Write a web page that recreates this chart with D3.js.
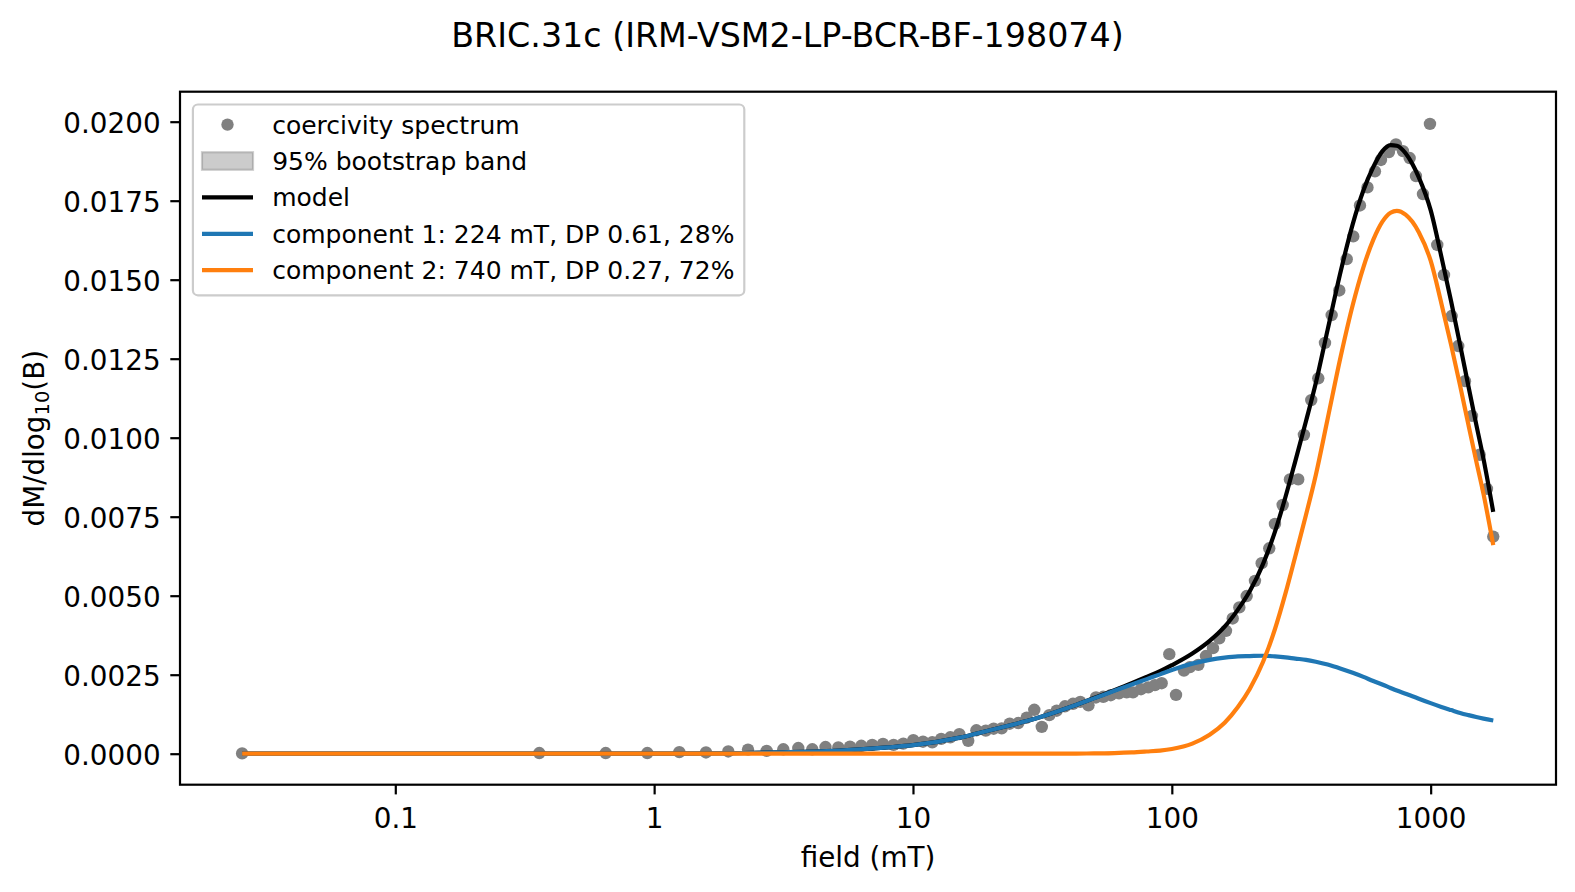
<!DOCTYPE html>
<html>
<head>
<meta charset="utf-8">
<script src="https://cdn.jsdelivr.net/npm/d3@7"></script>
<style>
  html, body { margin: 0; padding: 0; background: #ffffff; }
  svg { display: block; }
  text { font-family: "DejaVu Sans", sans-serif; fill: #000; }
</style>
</head>
<body>
<svg id="chart" width="1575" height="892"></svg>
<script>
// ---------------- data ----------------
const chartTitle = "BRIC.31c (IRM-VSM2-LP-BCR-BF-198074)";

// measured coercivity spectrum (field in mT, dM/dlog10(B))
const spectrumField = [0.0256, 0.360, 0.650, 0.941, 1.251, 1.586, 1.934, 2.305, 2.721, 3.155,
  3.605, 4.083, 4.592, 5.146, 5.709, 6.315, 6.957, 7.657, 8.416, 9.174,
  10.03, 10.93, 11.87, 12.85, 13.94, 15.10, 16.35, 17.58, 19.11, 20.50,
  22.01, 23.64, 25.52, 27.50, 29.42, 31.45, 33.62, 35.91, 38.66, 41.51,
  44.30, 47.64, 50.93, 54.35, 58.10, 62.50, 66.93, 70.79, 76.01, 81.10,
  86.08, 91.37, 97.77, 103.8, 111.4, 117.5, 126.6, 135.5, 144.2, 152.5,
  161.9, 171.9, 182.3, 194.6, 209.5, 222.4, 237.9, 250.3, 268.1, 286.0,
  307.9, 323.9, 345.7, 368.0, 390.6, 414.5, 443.6, 473.8, 502.3, 533.2,
  570.0, 609.2, 642.7, 690.0, 734.4, 781.6, 829.6, 877.4, 933.8, 993.8,
  1060.5, 1125.7, 1205.5, 1278.4, 1357, 1444, 1546, 1650, 1745];
const spectrumValue = [0.00001, 0.00002, 0.00002, 0.00002, 0.00005, 0.00004, 0.00007, 0.00013, 0.00009, 0.00014,
  0.00018, 0.00014, 0.00021, 0.00020, 0.00022, 0.00025, 0.00028, 0.00031, 0.00028, 0.00032,
  0.00043, 0.00038, 0.00036, 0.00047, 0.00052, 0.00062, 0.00041, 0.00074, 0.00073, 0.00079,
  0.00080, 0.00095, 0.00097, 0.00114, 0.00139, 0.00085, 0.00122, 0.00136, 0.00150, 0.00158,
  0.00164, 0.00153, 0.00178, 0.00180, 0.00185, 0.00191, 0.00194, 0.00194, 0.00204, 0.00210,
  0.00217, 0.00223, 0.00315, 0.00186, 0.00263, 0.00274, 0.00281, 0.00309, 0.00334, 0.00365,
  0.00389, 0.00428, 0.00463, 0.00499, 0.00547, 0.00603, 0.00650, 0.00727, 0.00787, 0.00868,
  0.00868, 0.01009, 0.01119, 0.01188, 0.01300, 0.01388, 0.01466, 0.01565, 0.01637, 0.01735,
  0.01792, 0.01843, 0.01879, 0.01904, 0.01928, 0.01907, 0.01885, 0.01828, 0.01771, 0.01993,
  0.01610, 0.01515, 0.01385, 0.01290, 0.01179, 0.01069, 0.00946, 0.00838, 0.00687];

// fitted curves sampled along field (mT)
const curveField = [0.0256, 1, 2, 3, 5, 8, 10, 15, 20, 30, 40, 50, 60, 70, 80, 90, 100,
  120, 140, 160, 180, 200, 225, 250, 275, 300, 330, 360, 400, 450, 500, 550, 600, 650,
  700, 740, 800, 850, 900, 1000, 1100, 1200, 1300, 1400, 1500, 1600, 1745];
const modelCurve = [0, 0.000003, 0.000015, 0.00004, 0.00009, 0.0002, 0.00027, 0.0005, 0.00075, 0.00112,
  0.00146, 0.00176, 0.00201, 0.00223, 0.00243, 0.00261, 0.0028, 0.00317, 0.00357, 0.00402,
  0.00456, 0.00514, 0.006, 0.00701, 0.00813, 0.00926, 0.01053, 0.01173, 0.01342, 0.01529,
  0.01676, 0.01783, 0.01856, 0.01906, 0.01926, 0.01924, 0.01900, 0.01866, 0.01824, 0.0172,
  0.01573, 0.01431, 0.01293, 0.01162, 0.01042, 0.00933, 0.00765];
const comp1Curve = [0, 0.000003, 0.000015, 0.00004, 0.00009, 0.0002, 0.00027, 0.0005, 0.00075, 0.00112,
  0.00146, 0.00175, 0.00199, 0.00219, 0.00236, 0.00251, 0.00265, 0.00285, 0.00297, 0.00304,
  0.00308, 0.00309, 0.0031, 0.00308, 0.00305, 0.00301, 0.00297, 0.00291, 0.00282, 0.00269,
  0.00256, 0.00243, 0.0023, 0.00219, 0.00208, 0.002, 0.0019, 0.00182, 0.00174, 0.0016,
  0.00148, 0.00138, 0.00129, 0.00122, 0.00116, 0.00111, 0.00105];
const comp2Curve = [0, 0, 0, 0, 0, 0, 0, 0, 0, 0,
  0, 0.00001, 0.00002, 0.00004, 0.00007, 0.0001, 0.00015, 0.00032, 0.0006, 0.00098,
  0.00148, 0.00205, 0.0029, 0.00393, 0.00508, 0.00625, 0.00756, 0.00882, 0.0106, 0.0126,
  0.0142, 0.0154, 0.01626, 0.01683, 0.01712, 0.01718, 0.01706, 0.01683, 0.0165, 0.0156,
  0.01425, 0.01293, 0.01164, 0.0104, 0.00926, 0.00822, 0.0066];
// half-width of the 95% bootstrap band
const bandHalf = [0, 0, 0, 0, 0, 0, 0, 0.00001, 0.00001, 0.00001,
  0.00001, 0.00001, 0.00001, 0.00001, 0.00001, 0.00001, 0.00001, 0.00002, 0.00002, 0.00002,
  0.00002, 0.00002, 0.00002, 0.00002, 0.00002, 0.00002, 0.00002, 0.00002, 0.00002, 0.00003,
  0.00003, 0.00003, 0.00003, 0.00003, 0.00003, 0.00003, 0.00003, 0.00003, 0.00003, 0.00003,
  0.00004, 0.00004, 0.00004, 0.00004, 0.00004, 0.00004, 0.00004];

const xTickValues = [0.1, 1, 10, 100, 1000];
const xTickLabels = ["0.1", "1", "10", "100", "1000"];
const yTickValues = [0, 0.0025, 0.005, 0.0075, 0.01, 0.0125, 0.015, 0.0175, 0.02];
const legendLabels = ["coercivity spectrum", "95% bootstrap band", "model",
  "component 1: 224 mT, DP 0.61, 28%", "component 2: 740 mT, DP 0.27, 72%"];

// ---------------- layout ----------------
const W = 1575, H = 892;
const plot = { left: 180, right: 1556, top: 91.7, bottom: 784.7 };
const colors = { points: "#808080", model: "#000000", c1: "#1f77b4", c2: "#ff7f0e", band: "#808080" };

const svg = d3.select("#chart");
svg.append("rect").attr("width", W).attr("height", H).attr("fill", "#fff");

const x = d3.scaleLog().domain([0.01473, 3049.6]).range([plot.left, plot.right]);
const y = d3.scaleLinear().domain([-0.000981, 0.020949]).range([plot.bottom, plot.top]);

const clipId = "plotclip";
svg.append("clipPath").attr("id", clipId).append("rect")
  .attr("x", plot.left).attr("y", plot.top)
  .attr("width", plot.right - plot.left).attr("height", plot.bottom - plot.top);

const g = svg.append("g").attr("clip-path", `url(#${clipId})`);

// scatter
g.append("g").selectAll("circle")
  .data(spectrumField.map((f, i) => [f, spectrumValue[i]]))
  .join("circle")
  .attr("cx", d => x(d[0])).attr("cy", d => y(d[1]))
  .attr("r", 6.2).attr("fill", colors.points);

const rows = curveField.map((f, i) => ({ f, m: modelCurve[i], c1: comp1Curve[i], c2: comp2Curve[i], h: bandHalf[i] }));

function band(key, color, op) {
  const area = d3.area().curve(d3.curveMonotoneX)
    .x(d => x(d.f)).y0(d => y(d[key] - d.h)).y1(d => y(d[key] + d.h));
  g.append("path").datum(rows).attr("d", area).attr("fill", color).attr("opacity", op);
}
band("m", colors.band, 0.4);
band("c1", colors.c1, 0.25);
band("c2", colors.c2, 0.25);

function line(key, color) {
  const ln = d3.line().curve(d3.curveMonotoneX).x(d => x(d.f)).y(d => y(d[key]));
  g.append("path").datum(rows).attr("d", ln).attr("fill", "none")
    .attr("stroke", color).attr("stroke-width", 4.2).attr("stroke-linejoin", "round");
}
line("m", colors.model);
line("c1", colors.c1);
line("c2", colors.c2);

// axes
const xAxis = d3.axisBottom(x).tickValues(xTickValues)
  .tickFormat((d, i) => xTickLabels[i]).tickSize(9.7).tickPadding(9.7);
const gx = svg.append("g").attr("transform", `translate(0,${plot.bottom})`).call(xAxis);
gx.select(".domain").remove();
gx.selectAll(".tick line").attr("stroke", "#000").attr("stroke-width", 2.2);
gx.selectAll(".tick text").attr("font-size", 27.8).attr("font-family", "DejaVu Sans")
  .attr("fill", "#000").attr("y", 43.5).attr("dy", null);

const yAxis = d3.axisLeft(y).tickValues(yTickValues)
  .tickFormat(d3.format(".4f")).tickSize(9.7).tickPadding(9.7);
const gy = svg.append("g").attr("transform", `translate(${plot.left},0)`).call(yAxis);
gy.select(".domain").remove();
gy.selectAll(".tick line").attr("stroke", "#000").attr("stroke-width", 2.2);
gy.selectAll(".tick text").attr("font-size", 27.8).attr("font-family", "DejaVu Sans")
  .attr("fill", "#000").attr("dy", "0.38em");

// frame
svg.append("rect")
  .attr("x", plot.left).attr("y", plot.top)
  .attr("width", plot.right - plot.left).attr("height", plot.bottom - plot.top)
  .attr("fill", "none").attr("stroke", "#000").attr("stroke-width", 2.2);

// title & labels
svg.append("text").attr("x", 787.5).attr("y", 47).attr("text-anchor", "middle")
  .attr("font-size", 33.3).text(chartTitle);
svg.append("text").attr("x", (plot.left + plot.right) / 2).attr("y", 866.5)
  .attr("text-anchor", "middle").attr("font-size", 27.8).text("field (mT)");
const yl = svg.append("text")
  .attr("transform", `translate(43.5,${(plot.top + plot.bottom) / 2}) rotate(-90)`)
  .attr("text-anchor", "middle").attr("font-size", 27.8);
yl.append("tspan").text("dM/dlog");
yl.append("tspan").attr("font-size", 19.5).attr("dy", 5).text("10");
yl.append("tspan").attr("dy", -5).text("(B)");

// legend
const lg = svg.append("g");
lg.append("rect").attr("x", 192.9).attr("y", 104.5).attr("width", 551.4).attr("height", 190.8)
  .attr("rx", 5).attr("fill", "#fff").attr("fill-opacity", 0.8)
  .attr("stroke", "#cccccc").attr("stroke-width", 2.2);
const rowY = i => 124.6 + i * 36.4;
const hx0 = 202, hx1 = 253;
lg.append("circle").attr("cx", (hx0 + hx1) / 2).attr("cy", rowY(0)).attr("r", 6.2).attr("fill", colors.points);
lg.append("rect").attr("x", hx0).attr("y", rowY(1) - 8.75).attr("width", hx1 - hx0).attr("height", 17.5)
  .attr("fill", colors.band).attr("fill-opacity", 0.4)
  .attr("stroke", colors.band).attr("stroke-opacity", 0.4).attr("stroke-width", 2.2);
[[2, colors.model], [3, colors.c1], [4, colors.c2]].forEach(([i, c]) => {
  lg.append("line").attr("x1", hx0).attr("x2", hx1).attr("y1", rowY(i)).attr("y2", rowY(i))
    .attr("stroke", c).attr("stroke-width", 4.2);
});
legendLabels.forEach((t, i) => {
  lg.append("text").attr("x", 272.2).attr("y", rowY(i)).attr("dy", "0.36em")
    .attr("font-size", 25).text(t);
});
</script>
</body>
</html>
